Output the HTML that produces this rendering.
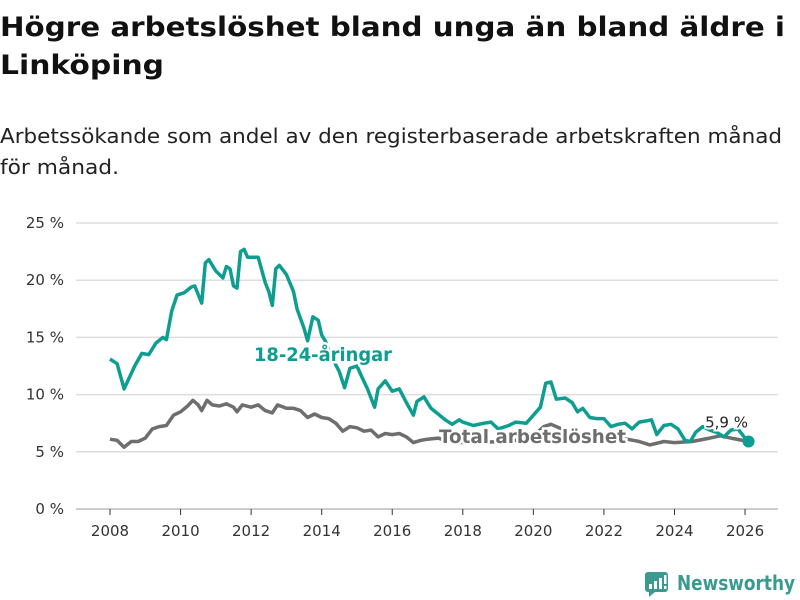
<!DOCTYPE html>
<html><head><meta charset="utf-8"><style>
html,body{margin:0;padding:0;background:#fff;width:800px;height:600px;overflow:hidden}
text{font-family:"DejaVu Sans","Liberation Sans",sans-serif}
</style></head><body>
<svg id="c" width="800" height="600" xmlns="http://www.w3.org/2000/svg">
<text x="0" y="36" font-size="27" font-weight="bold" fill="#111" textLength="785" lengthAdjust="spacingAndGlyphs">Högre arbetslöshet bland unga än bland äldre i</text>
<text x="0" y="74" font-size="27" font-weight="bold" fill="#111" textLength="164" lengthAdjust="spacingAndGlyphs">Linköping</text>
<text x="0" y="143" font-size="20" fill="#222" textLength="782" lengthAdjust="spacingAndGlyphs">Arbetssökande som andel av den registerbaserade arbetskraften månad</text>
<text x="0" y="174" font-size="20" fill="#222" textLength="119" lengthAdjust="spacingAndGlyphs">för månad.</text>
<g id="grid"></g><g id="series"></g><g id="labels"></g>
<g>
<rect x="645" y="572" width="23" height="20" rx="3" fill="#3a9a8f"/>
<polygon points="649,592 655,592 649,597" fill="#3a9a8f"/>
<rect x="649" y="584" width="3" height="5" fill="#fff"/><rect x="654" y="581" width="3" height="8" fill="#fff"/><rect x="659" y="578" width="3" height="11" fill="#fff"/><rect x="664" y="575" width="2.5" height="9" fill="#fff"/><rect x="664" y="586" width="2.5" height="3" fill="#fff"/>
<text x="677" y="590" font-size="20" font-weight="bold" fill="#3a9a8f" textLength="118" lengthAdjust="spacingAndGlyphs">Newsworthy</text>
</g>
</svg>
<script>
const yTicks=[0,5,10,15,20,25];
const yTickLabels=["0 %","5 %","10 %","15 %","20 %","25 %"];
const xTicks=[2008,2010,2012,2014,2016,2018,2020,2022,2024,2026];
const youthT=[2008.0,2008.2,2008.4,2008.7,2008.9,2009.1,2009.3,2009.5,2009.6,2009.75,2009.9,2010.1,2010.3,2010.4,2010.6,2010.7,2010.8,2011.0,2011.2,2011.3,2011.4,2011.5,2011.6,2011.7,2011.8,2011.9,2012.2,2012.4,2012.5,2012.6,2012.7,2012.8,2013.0,2013.2,2013.3,2013.5,2013.6,2013.75,2013.9,2014.0,2014.1,2014.3,2014.5,2014.65,2014.8,2015.0,2015.1,2015.3,2015.5,2015.6,2015.8,2016.0,2016.2,2016.4,2016.6,2016.7,2016.9,2017.1,2017.3,2017.5,2017.7,2017.9,2018.0,2018.3,2018.6,2018.8,2019.0,2019.3,2019.5,2019.8,2020.0,2020.2,2020.35,2020.5,2020.65,2020.9,2021.1,2021.25,2021.4,2021.6,2021.8,2022.0,2022.2,2022.4,2022.6,2022.8,2023.0,2023.2,2023.35,2023.5,2023.7,2023.9,2024.1,2024.3,2024.45,2024.6,2024.8,2025.0,2025.2,2025.4,2025.6,2025.8,2026.0,2026.1];
const youthV=[13.1,12.7,10.5,12.5,13.6,13.5,14.5,15.0,14.8,17.3,18.7,18.9,19.4,19.5,18.0,21.5,21.8,20.8,20.2,21.2,21.0,19.5,19.3,22.5,22.7,22.0,22.0,19.8,19.0,17.8,21.0,21.3,20.5,19.0,17.5,15.8,14.7,16.8,16.5,15.2,14.7,13.2,12.0,10.6,12.3,12.5,11.8,10.5,8.9,10.5,11.2,10.3,10.5,9.3,8.2,9.4,9.8,8.8,8.3,7.8,7.4,7.8,7.6,7.3,7.5,7.6,7.0,7.3,7.6,7.5,8.2,8.9,11.0,11.1,9.6,9.7,9.3,8.5,8.8,8.0,7.9,7.9,7.2,7.4,7.5,7.0,7.6,7.7,7.8,6.5,7.3,7.4,7.0,6.0,5.9,6.7,7.2,6.9,6.7,6.3,6.9,7.0,6.2,5.9];
const totalT=[2008.0,2008.2,2008.4,2008.6,2008.8,2009.0,2009.2,2009.4,2009.6,2009.8,2010.0,2010.2,2010.35,2010.5,2010.6,2010.75,2010.9,2011.1,2011.3,2011.5,2011.6,2011.75,2012.0,2012.2,2012.4,2012.6,2012.75,2013.0,2013.2,2013.4,2013.6,2013.8,2014.0,2014.2,2014.4,2014.6,2014.8,2015.0,2015.2,2015.4,2015.6,2015.8,2016.0,2016.2,2016.4,2016.6,2016.8,2017.0,2017.3,2017.6,2018.0,2018.5,2019.0,2019.5,2020.0,2020.3,2020.5,2020.8,2021.1,2021.5,2022.0,2022.5,2023.0,2023.3,2023.7,2024.0,2024.5,2025.0,2025.3,2025.6,2026.1];
const totalV=[6.1,6.0,5.4,5.9,5.9,6.2,7.0,7.2,7.3,8.2,8.5,9.0,9.5,9.1,8.6,9.5,9.1,9.0,9.2,8.9,8.5,9.1,8.9,9.1,8.6,8.4,9.1,8.8,8.8,8.6,8.0,8.3,8.0,7.9,7.5,6.8,7.2,7.1,6.8,6.9,6.3,6.6,6.5,6.6,6.3,5.8,6.0,6.1,6.2,5.9,5.8,5.8,5.9,6.0,6.4,7.2,7.4,7.0,6.5,6.2,6.0,6.2,5.9,5.6,5.9,5.8,5.9,6.2,6.4,6.2,5.9];
const NS="http://www.w3.org/2000/svg";
const X=t=>110+(t-2008)*35.28, Y=v=>509-v*11.44;
function mk(tag,attrs,parent){const e=document.createElementNS(NS,tag);for(const k in attrs)e.setAttribute(k,attrs[k]);document.getElementById(parent).appendChild(e);return e;}
yTicks.forEach((v,i)=>{
 const l=mk('line',{x1:76,x2:778,y1:Y(v),y2:Y(v),stroke:v===0?'#bbb':'#ddd','stroke-width':v===0?1.5:1.5},'grid');
 
 
 const t=mk('text',{x:64,y:Y(v)+5,'font-size':15,fill:'#333','text-anchor':'end'},'grid');t.textContent=yTickLabels[i];
 
 
});
xTicks.forEach(v=>{
 const l=mk('line',{x1:X(v),x2:X(v),y1:509,y2:515,stroke:'#333','stroke-width':1},'grid');
 
 
 const t=mk('text',{x:X(v),y:536,'font-size':15,fill:'#333','text-anchor':'middle'},'grid');t.textContent=v;
 
 
});
function pts(T,V){return T.map((t,i)=>X(t).toFixed(1)+','+Y(V[i]).toFixed(1)).join(' ');}
const tl=mk('polyline',{points:pts(totalT,totalV),fill:'none',stroke:'#6e6e6e','stroke-width':3.5,'stroke-linejoin':'round'},'series');


const yl=mk('polyline',{points:pts(youthT,youthV),fill:'none',stroke:'#0e9e91','stroke-width':3.5,'stroke-linejoin':'round'},'series');


const lt=youthT[youthT.length-1], lv=youthV[youthV.length-1];
const d=mk('circle',{cx:X(lt),cy:Y(lv),r:6,fill:'#0e9e91'},'series');


const vl=mk('text',{x:X(lt)-22,y:Y(lv)-14,'font-size':15,fill:'#222','text-anchor':'middle',stroke:'#fff','stroke-width':4,'paint-order':'stroke'},'labels');vl.textContent=String(lv).replace('.',',')+' %';


const a=mk('text',{x:254,y:361,'font-size':19,'font-weight':'bold',fill:'#0e9e91',stroke:'#fff','stroke-width':5,'paint-order':'stroke',textLength:138,lengthAdjust:'spacingAndGlyphs'},'labels');a.textContent='18-24-åringar';


const b=mk('text',{x:439,y:443,'font-size':19,'font-weight':'bold',fill:'#6e6e6e',stroke:'#fff','stroke-width':5,'paint-order':'stroke',textLength:187,lengthAdjust:'spacingAndGlyphs'},'labels');b.textContent='Total arbetslöshet';


</script>
</body></html>
